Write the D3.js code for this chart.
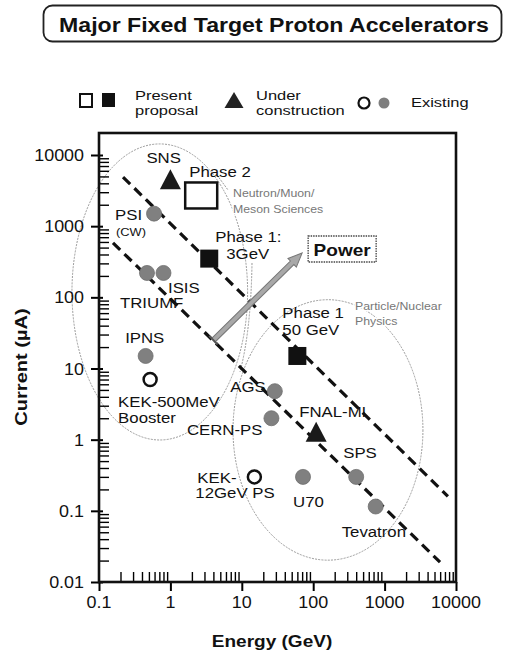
<!DOCTYPE html>
<html>
<head>
<meta charset="utf-8">
<script src="https://cdn.jsdelivr.net/npm/d3@7"></script>
<style>
  body { margin: 0; background: #fff; }
  text { font-family: "Liberation Sans", Arial, Helvetica, sans-serif; }
</style>
</head>
<body>
<div id="chart"></div>
<script>
// accelerators: name, energy (GeV), current (uA), kind
const names   = ["SNS", "Phase 2", "Phase 1 3GeV", "Phase 1 50GeV", "PSI", "TRIUMF", "ISIS", "IPNS",
                 "KEK-500MeV", "AGS", "CERN-PS", "FNAL-MI", "SPS", "U70", "Tevatron", "KEK-12GeV"];
const energy  = [1, 2.7, 3.5, 60, 0.59, 0.47, 0.8, 0.45, 0.52, 29, 26, 110, 400, 72, 750, 15];
const current = [4400, 2700, 350, 15, 1500, 220, 220, 15, 7, 4.8, 2, 1.25, 0.3, 0.3, 0.115, 0.3];
const kinds   = ["construction", "proposalOpen", "proposal", "proposal", "existing", "existing", "existing", "existing",
                 "existingOpen", "existing", "existing", "construction", "existing", "existing", "existing", "existingOpen"];

// constant power guide lines
const upperLineE = [0.217, 7700];
const upperLineI = [4900, 0.16];
const lowerLineE = [0.157, 5970];
const lowerLineI = [583, 0.019];

// "Power" arrow, start and end
const arrowE = [4, 70];
const arrowI = [25, 420];

// grouping ellipses: centre (GeV, uA), radii in decades
const ellipseE  = [0.71, 161];
const ellipseI  = [119, 1.37];
const ellipseRx = [1.23, 1.33];
const ellipseRy = [2.08, 1.83];

const xTicks = [0.1, 1, 10, 100, 1000, 10000];
const yTicks = [0.01, 0.1, 1, 10, 100, 1000, 10000];

const W = 506, H = 653;
const SX = 1.12; // scanned glyphs are a bit wider than Liberation Sans

const svg = d3.select("#chart").append("svg")
    .attr("width", W)
    .attr("height", H);

const x = d3.scaleLog().domain([0.1, 10000]).range([99, 456]);
const y = d3.scaleLog().domain([0.01, 10000]).range([582, 155]);

function label(sel, px, py, s, o) {
    o = o || {};
    return sel.append("text")
        .attr("transform", `translate(${px},${py})` + (o.rot ? ` rotate(${o.rot})` : "") + ` scale(${o.sx || SX},1)`)
        .attr("text-anchor", o.anchor || "start")
        .attr("font-size", o.size || 15)
        .attr("font-weight", o.bold ? "bold" : "normal")
        .attr("fill", o.fill || "#111")
        .text(s);
}

// title box
svg.append("rect")
    .attr("x", 43.5).attr("y", 5.5).attr("width", 458).attr("height", 36)
    .attr("rx", 9)
    .attr("fill", "none").attr("stroke", "#222").attr("stroke-width", 1.8);
label(svg, 274, 32, "Major Fixed Target Proton Accelerators", {size: 21, bold: true, anchor: "middle", sx: 1.1});

// legend
const leg = svg.append("g");
const lg = {size: 13.5, sx: 1.22};
leg.append("rect").attr("x", 80).attr("y", 94).attr("width", 12).attr("height", 13)
    .attr("fill", "#fff").attr("stroke", "#111").attr("stroke-width", 2);
leg.append("rect").attr("x", 102).attr("y", 93).attr("width", 13).attr("height", 14).attr("fill", "#111");
label(leg, 135, 99.5, "Present", lg);
label(leg, 135, 115, "proposal", lg);
leg.append("path").attr("d", "M234,92 L243.5,108 L224.5,108 Z").attr("fill", "#222");
label(leg, 256, 99.5, "Under", lg);
label(leg, 256, 115, "construction", lg);
leg.append("circle").attr("cx", 364).attr("cy", 103).attr("r", 5.5)
    .attr("fill", "#fff").attr("stroke", "#111").attr("stroke-width", 2.2);
leg.append("circle").attr("cx", 384).attr("cy", 103).attr("r", 5.5).attr("fill", "#7e7e7e");
label(leg, 411, 107, "Existing", lg);

// ellipses
const ell = svg.append("g");
ellipseE.forEach((e, i) => {
    ell.append("ellipse")
        .attr("cx", x(e)).attr("cy", y(ellipseI[i]))
        .attr("rx", ellipseRx[i] * (x(10) - x(1)))
        .attr("ry", ellipseRy[i] * (y(1) - y(10)))
        .attr("fill", "none").attr("stroke", "#9a9a9a")
        .attr("stroke-width", 1).attr("stroke-dasharray", "2,1.2");
});
// leader lines
ell.append("path").attr("d", "M217,175 L228,190").attr("fill", "none")
    .attr("stroke", "#999").attr("stroke-width", 1).attr("stroke-dasharray", "2,1.2");
ell.append("path").attr("d", "M252,263 Q251,330 240,372").attr("fill", "none")
    .attr("stroke", "#999").attr("stroke-width", 1).attr("stroke-dasharray", "2,1.2");

// axes and frame
const minors = [];
[0.01, 0.1, 1, 10, 100, 1000].forEach(d => { for (let k = 2; k < 10; k++) minors.push(d * k); });
const fmt = d => d >= 1 ? d3.format("d")(d) : String(d);

const yAx = svg.append("g").attr("transform", "translate(99,0)")
    .call(d3.axisLeft(y).tickValues(yTicks).tickFormat(fmt).tickSizeInner(8).tickSizeOuter(0).tickPadding(0));
yAx.select(".domain").remove();
yAx.selectAll("line").attr("stroke-width", 2);
yAx.selectAll("text").text("");
yTicks.forEach(t => label(svg, 84, y(t) + 6, fmt(t), {size: 16, anchor: "end"}));

svg.append("g").attr("transform", "translate(99,0)")
    .call(d3.axisRight(y).tickValues(minors).tickFormat("").tickSize(10).tickSizeOuter(0))
    .call(g => g.select(".domain").remove())
    .selectAll("line").attr("stroke-width", 1.4);
svg.append("g").attr("transform", "translate(99,0)")
    .call(d3.axisRight(y).tickValues(yTicks).tickFormat("").tickSize(4).tickSizeOuter(0))
    .call(g => g.select(".domain").remove())
    .selectAll("line").attr("stroke-width", 2);

const xMinors = minors.filter(d => d > 0.1);
const xAx = svg.append("g").attr("transform", "translate(0,582)")
    .call(d3.axisBottom(x).tickValues(xTicks).tickFormat("").tickSize(9).tickSizeOuter(0));
xAx.select(".domain").remove();
xAx.selectAll("line").attr("stroke-width", 2);
xTicks.forEach(t => label(svg, x(t), 608, fmt(t), {size: 16, anchor: "middle"}));
svg.append("g").attr("transform", "translate(0,582)")
    .call(d3.axisTop(x).tickValues(xMinors).tickFormat("").tickSize(10).tickSizeOuter(0))
    .call(g => g.select(".domain").remove())
    .selectAll("line").attr("stroke-width", 1.4);

svg.append("rect")
    .attr("x", 99).attr("y", 133).attr("width", 357).attr("height", 449)
    .attr("fill", "none").attr("stroke", "#111").attr("stroke-width", 2.6);

label(svg, 272, 647, "Energy (GeV)", {size: 17, bold: true, anchor: "middle"});
label(svg, 27, 367, "Current (\u00b5A)", {size: 17, bold: true, anchor: "middle", rot: -90, sx: 1.18});

// constant power lines
const line = d3.line().x(d => x(d[0])).y(d => y(d[1]));
[[upperLineE, upperLineI], [lowerLineE, lowerLineI]].forEach(([es, is]) => {
    svg.append("path")
        .attr("d", line(es.map((e, i) => [e, is[i]])))
        .attr("fill", "none").attr("stroke", "#111")
        .attr("stroke-width", 3.2).attr("stroke-dasharray", "10,6");
});

// power arrow
const ax0 = x(arrowE[0]), ay0 = y(arrowI[0]), ax1 = x(arrowE[1]), ay1 = y(arrowI[1]);
const ang = Math.atan2(ay1 - ay0, ax1 - ax0);
const arr = svg.append("g").attr("transform", `translate(${ax0},${ay0}) rotate(${ang * 180 / Math.PI})`);
const len = Math.hypot(ax1 - ax0, ay1 - ay0);
arr.append("path")
    .attr("d", `M0,-2.5 L${len - 14},-2.5 L${len - 14},-6 L${len},0 L${len - 14},6 L${len - 14},2.5 L0,2.5 Z`)
    .attr("fill", "#a8a8a8").attr("stroke", "#777").attr("stroke-width", 1);
arr.append("line").attr("x1", 0).attr("x2", 0).attr("y1", -6).attr("y2", 6)
    .attr("stroke", "#555").attr("stroke-width", 2);

const pb = svg.append("g").attr("transform", `translate(${ax1 + 6},${ay1 - 17})`);
pb.append("rect").attr("width", 68).attr("height", 26)
    .attr("fill", "#fff").attr("stroke", "#444").attr("stroke-width", 1.3).attr("stroke-dasharray", "1.5,1");
label(pb, 34, 20, "Power", {size: 17, bold: true, anchor: "middle"});

// gray area notes
function note(px, py, s) {
    label(svg, px, py, s, {size: 11, fill: "#777"})
        .attr("stroke", "#fff").attr("stroke-width", 3).attr("paint-order", "stroke");
}
note(233, 197, "Neutron/Muon/");
note(233, 213, "Meson Sciences");
note(355, 310, "Particle/Nuclear");
note(355, 325, "Physics");

// markers
const pts = names.map((n, i) => ({name: n, e: energy[i], c: current[i], kind: kinds[i]}));
const mk = svg.append("g");
pts.forEach(p => {
    const px = x(p.e), py = y(p.c);
    if (p.kind === "existing") {
        mk.append("circle").attr("cx", px).attr("cy", py).attr("r", 7.5)
            .attr("fill", "#808080").attr("stroke", "#6e6e6e").attr("stroke-width", 0.8);
    } else if (p.kind === "existingOpen") {
        mk.append("circle").attr("cx", px).attr("cy", py).attr("r", 6.5)
            .attr("fill", "#fff").attr("stroke", "#111").attr("stroke-width", 2.5);
    } else if (p.kind === "proposal") {
        mk.append("rect").attr("x", px - 9).attr("y", py - 9).attr("width", 18).attr("height", 18).attr("fill", "#111");
    } else if (p.kind === "proposalOpen") {
        mk.append("rect").attr("x", px - 16).attr("y", py - 13).attr("width", 32).attr("height", 26)
            .attr("fill", "#fff").attr("stroke", "#111").attr("stroke-width", 2.5);
    } else {
        mk.append("path").attr("d", `M${px},${py - 11} L${px + 10.5},${py + 9} L${px - 10.5},${py + 9} Z`)
            .attr("fill", "#1a1a1a");
    }
});

// point labels: offsets from each marker in pixels
const labelSpec = {
    "SNS":           [[-24, -17, "SNS"]],
    "Phase 2":       [[-12, -18, "Phase 2"]],
    "Phase 1 3GeV":  [[6, -17, "Phase 1:"], [17, 0, "3GeV"]],
    "Phase 1 50GeV": [[-15, -38, "Phase 1"], [-15, -21, "50 GeV"]],
    "PSI":           [[-39, 6, "PSI"], [-38, 22, "(CW)", 11.5]],
    "TRIUMF":        [[-27, 35, "TRIUMF"]],
    "ISIS":          [[4.5, 20, "ISIS"]],
    "IPNS":          [[-20.5, -13, "IPNS"]],
    "KEK-500MeV":    [[-32, 27.5, "KEK-500MeV"], [-32, 43.5, "Booster"]],
    "AGS":           [[-44.5, 1, "AGS"]],
    "CERN-PS":       [[-84.5, 17, "CERN-PS"]],
    "FNAL-MI":       [[-17, -16, "FNAL-MI"]],
    "SPS":           [[-13, -19, "SPS"]],
    "U70":           [[-10, 30, "U70"]],
    "Tevatron":      [[-34, 30.5, "Tevatron"]],
    "KEK-12GeV":     [[-57, 6, "KEK-"], [-59, 21, "12GeV PS"]]
};
pts.forEach(p => {
    (labelSpec[p.name] || []).forEach(([dx, dy, s, sz]) => {
        label(svg, x(p.e) + dx, y(p.c) + dy, s, {size: sz || 15});
    });
});
</script>
</body>
</html>
